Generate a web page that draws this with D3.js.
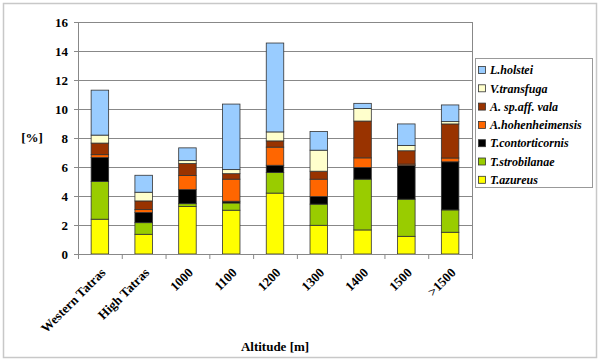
<!DOCTYPE html>
<html>
<head>
<script src="https://cdn.jsdelivr.net/npm/d3@7"></script>
<style>
body { margin: 0; background: #fff; }
text { font-family: "Liberation Serif", "Times New Roman", serif; font-weight: bold; }
.grid line { stroke: #888; stroke-width: 1; }
</style>
</head>
<body>
<script>
// categories and stacked series (bottom to top)
var categories = ["Western Tatras", "High Tatras", "1000", "1100", "1200", "1300", "1400", "1500", ">1500"];
var seriesNames = ["T.azureus", "T.strobilanae", "T.contorticornis", "A.hohenheimensis", "A. sp.aff. vala", "V.transfuga", "L.holstei"];
var seriesColors = ["#ffff00", "#99cc00", "#000000", "#ff6600", "#993300", "#ffffcc", "#99ccff"];

var tAzureus        = [2.4, 1.36, 3.27, 3.02, 4.2, 1.98, 1.66, 1.22, 1.5];
var tStrobilanae    = [2.6, 0.8, 0.2, 0.5, 1.42, 1.46, 3.5, 2.56, 1.54];
var tContorticornis = [1.65, 0.7, 0.97, 0.12, 0.5, 0.52, 0.8, 2.32, 3.32];
var aHohenheimensis = [0.2, 0.2, 0.97, 1.52, 1.25, 1.2, 0.67, 0.1, 0.26];
var aVala           = [0.8, 0.6, 0.83, 0.38, 0.43, 0.55, 2.54, 0.92, 2.35];
var vTransfuga      = [0.55, 0.6, 0.2, 0.28, 0.62, 1.45, 0.87, 0.37, 0.16];
var lHolstei        = [3.1, 1.17, 0.88, 4.52, 6.13, 1.29, 0.35, 1.48, 1.15];

var yTicks = [0, 2, 4, 6, 8, 10, 12, 14, 16];

var values = [tAzureus, tStrobilanae, tContorticornis, aHohenheimensis, aVala, vTransfuga, lHolstei];
var table = categories.map(function(c, i) {
  var row = { cat: c };
  seriesNames.forEach(function(s, j) { row[s] = values[j][i]; });
  return row;
});

var width = 600, height = 363;
var pLeft = 78, pRight = 472, pTop = 22, pBottom = 254;

var svg = d3.select("body").append("svg")
  .attr("width", width)
  .attr("height", height);

// outer frame
svg.append("rect").attr("x", 3.5).attr("y", 3.5).attr("width", 593).attr("height", 354)
  .attr("fill", "#fff").attr("stroke", "#c8c8c8").attr("stroke-width", 1.5);

var x = d3.scaleBand().domain(categories).range([pLeft, pRight]).paddingInner(0.6).paddingOuter(0.3);
var xb = d3.scaleBand().domain(categories).range([pLeft, pRight]);
var y = d3.scaleLinear().domain([0, 16]).range([pBottom, pTop]);

// gridlines
svg.append("g").attr("class", "grid")
  .selectAll("line").data(yTicks.slice(1)).enter().append("line")
  .attr("x1", pLeft).attr("x2", pRight)
  .attr("y1", function(d) { return Math.round(y(d)) + 0.5; })
  .attr("y2", function(d) { return Math.round(y(d)) + 0.5; });
svg.append("line").attr("x1", pRight + 0.5).attr("x2", pRight + 0.5)
  .attr("y1", pTop).attr("y2", pBottom).attr("stroke", "#888");

// stacked bars
var stack = d3.stack().keys(seriesNames)(table);
svg.append("g").selectAll("g").data(stack).enter().append("g")
  .attr("fill", function(d, i) { return seriesColors[i]; })
  .selectAll("rect").data(function(d) { return d; }).enter().append("rect")
  .attr("x", function(d) { return x(d.data.cat); })
  .attr("width", x.bandwidth())
  .attr("y", function(d) { return y(d[1]); })
  .attr("height", function(d) { return y(d[0]) - y(d[1]); })
  .attr("stroke", "#333")
  .attr("stroke-width", 0.8);

// y axis
var yAxis = svg.append("g").attr("transform", "translate(" + pLeft + ",0)")
  .call(d3.axisLeft(y).tickValues(yTicks).tickSize(4).tickPadding(6));
yAxis.select(".domain").attr("stroke", "#888");
yAxis.selectAll(".tick line").attr("stroke", "#888");
yAxis.selectAll("text").attr("font-size", 13).attr("fill", "#000");

// x axis with ticks at category boundaries
var xAxis = svg.append("g").attr("transform", "translate(0," + pBottom + ")");
xAxis.append("line").attr("x1", pLeft).attr("x2", pRight + 1).attr("y1", 0.5).attr("y2", 0.5).attr("stroke", "#888");
xAxis.selectAll(".bt").data(categories.concat(["end"])).enter().append("line")
  .attr("x1", function(d, i) { return pLeft + i * xb.step() + 0.5; })
  .attr("x2", function(d, i) { return pLeft + i * xb.step() + 0.5; })
  .attr("y1", 0).attr("y2", 5).attr("stroke", "#888");
xAxis.selectAll(".lab").data(categories).enter().append("text")
  .attr("transform", function(d) {
    return "translate(" + (xb(d) + xb.bandwidth() / 2) + ",13) rotate(-45)";
  })
  .attr("text-anchor", "end")
  .attr("dy", "0.7em")
  .attr("font-size", 13)
  .text(function(d) { return d; });

// axis titles
svg.append("text").attr("x", 32).attr("y", 142).attr("text-anchor", "middle")
  .attr("font-size", 13).text("[%]");
svg.append("text").attr("x", 275).attr("y", 351).attr("text-anchor", "middle")
  .attr("font-size", 13).text("Altitude [m]");

// legend
var lg = svg.append("g");
lg.append("rect").attr("x", 475.5).attr("y", 58.5).attr("width", 117).attr("height", 129)
  .attr("fill", "#fff").attr("stroke", "#999");
var legendOrder = seriesNames.slice().reverse();
var legendColors = seriesColors.slice().reverse();
var item = lg.selectAll(".it").data(legendOrder).enter().append("g")
  .attr("transform", function(d, i) { return "translate(478," + (70 + i * 18.3) + ")"; });
item.append("rect").attr("x", 0.5).attr("y", -3.5).attr("width", 7).attr("height", 7)
  .attr("fill", function(d, i) { return legendColors[i]; })
  .attr("stroke", "#333").attr("stroke-width", 0.8);
item.append("text").attr("x", 12).attr("dy", "0.35em").attr("font-size", 12)
  .attr("font-style", "italic").text(function(d) { return d; });
</script>
</body>
</html>
